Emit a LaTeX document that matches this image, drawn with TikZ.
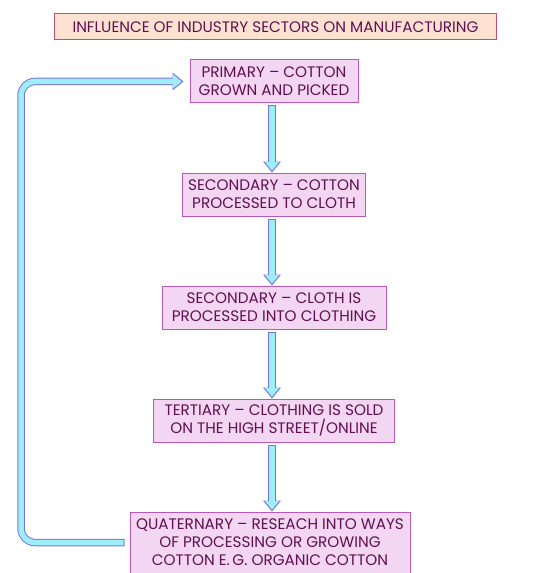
\documentclass[tikz,border=0pt]{standalone}
\usepackage{fontspec}
\setmainfont{Poppins}
\usepackage{tikz}
\usetikzlibrary{positioning,arrows.meta}
\usepackage{xcolor}
\definecolor{boxfill}{RGB}{243,214,241}
\definecolor{boxline}{RGB}{184,88,184}
\definecolor{titlefill}{RGB}{253,226,210}
\definecolor{titleline}{RGB}{196,76,122}
\definecolor{textpurple}{RGB}{96,16,80}
\definecolor{arrowline}{RGB}{118,118,224}
\definecolor{arrowfill}{RGB}{158,238,250}

\begin{document}
\begin{tikzpicture}[
    x=1bp, y=-1bp,
    node distance=69bp,
    box/.style={rectangle, draw=boxline, line width=1bp, fill=boxfill, text=textpurple,
        align=center, font=\fontsize{15.3}{18}\selectfont, inner xsep=3bp, inner ysep=3bp,
        minimum height=43bp},
    titlebox/.style={box, draw=titleline, fill=titlefill, minimum height=26bp},
    flowout/.style={line width=7.5bp, draw=arrowline,
        -{Triangle[length=11bp, width=18bp, line width=0pt]}},
    flowin/.style={line width=5.5bp, draw=arrowfill, shorten >=1.8bp,
        -{Triangle[length=8.5bp, width=14bp, line width=0pt]}}
]
    \useasboundingbox (0,0) rectangle (539,573);

    % Heading
    \node[titlebox, minimum width=441bp] (title) at (275.5,27)
        {INFLUENCE OF INDUSTRY SECTORS ON MANUFACTURING};

    % Sectors
    \node[box, minimum width=168bp] (primary) at (274,81.5)
        {PRIMARY -- COTTON\\GROWN AND PICKED};
    \node[box, minimum width=183bp, below=of primary] (cloth)
        {SECONDARY -- COTTON\\PROCESSED TO CLOTH};
    \node[box, minimum width=224bp, below=of cloth] (clothing)
        {SECONDARY -- CLOTH IS\\PROCESSED INTO CLOTHING};
    \node[box, minimum width=241bp, below=of clothing] (tertiary)
        {TERTIARY -- CLOTHING IS SOLD\\ON THE HIGH STREET/ONLINE};
    \node[box, minimum width=280bp, minimum height=61bp, below=of tertiary, xshift=-4bp] (quaternary)
        {QUATERNARY -- RESEACH INTO WAYS\\OF PROCESSING OR GROWING\\COTTON E.\,G. ORGANIC COTTON};

    % Edges
    \foreach \a/\b in {primary/cloth, cloth/clothing, clothing/tertiary} {
        \draw[flowout, shorten <=2bp] ([xshift=-2bp]\a.south) -- ([xshift=-2bp]\b.north);
        \draw[flowin, shorten <=3bp] ([xshift=-2bp]\a.south) -- ([xshift=-2bp]\b.north);
    }
    \draw[flowout, shorten <=2bp] ([xshift=-2bp]tertiary.south) -- ([xshift=-2bp]tertiary.south |- quaternary.north);
    \draw[flowin, shorten <=3bp] ([xshift=-2bp]tertiary.south) -- ([xshift=-2bp]tertiary.south |- quaternary.north);

    % Feedback loop
    \coordinate (loopx) at (21,0);
    \draw[flowout, rounded corners=14bp, shorten <=5bp, shorten >=6bp]
        (quaternary.west) -- (quaternary.west -| loopx) |- (primary.west);
    \draw[flowin, rounded corners=14bp, shorten <=6bp, shorten >=7.8bp]
        (quaternary.west) -- (quaternary.west -| loopx) |- (primary.west);
\end{tikzpicture}
\end{document}
